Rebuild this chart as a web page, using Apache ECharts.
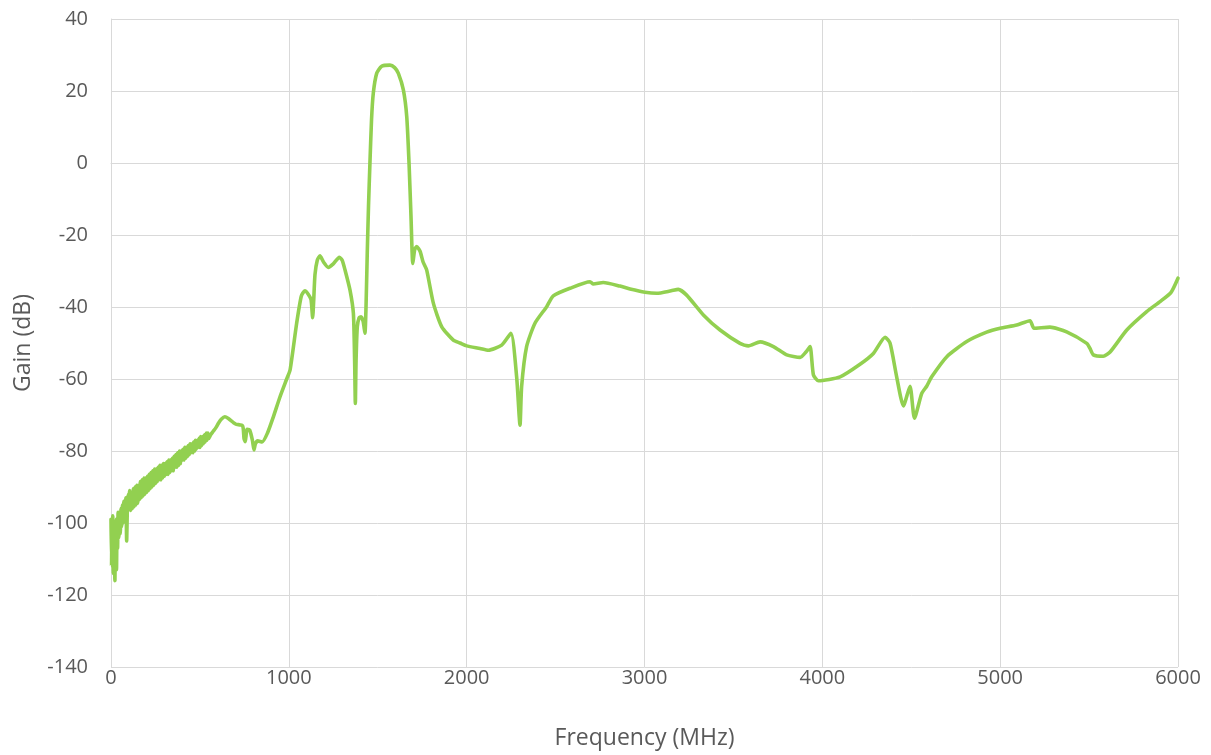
<!DOCTYPE html>
<html>
<head>
<meta charset="utf-8">
<script src="https://cdn.jsdelivr.net/npm/echarts@6/dist/echarts.min.js"></script>
<style>
html,body{margin:0;padding:0;background:#fff;}
#chart{width:1211px;height:755px;}
</style>
</head>
<body>
<div id="chart"></div>
<script>
// Noisy low-frequency segment
var freqLow = [0,3,5,8,10,13,16,19,22,25,28,31,34,37,40,44,48,52,56,60,64,68,72,76,80,84,88,92,96,
  100,105,110,115,120,125,130,135,140,145,150,155,160,165,170,175,180,185,190,195,200,205,210,215,220,225,
  230,235,240,245,250,255,260,265,270,275,280,285,290,295,300,305,310,315,320,325,330,335,340,345,350,355,
  360,365,370,375,380,385,390,395,400,405,410,415,420,425,430,435,440,445,450,455,460,465,470,475,480,485,
  490,495,500,505,510,515,520,525,530,535,540,545,550,560,575,590,605,620,640];
var gainLow = [-99,-112,-100,-110,-98,-114,-101,-108,-116,-103,-99,-113,-100,-107,-97,-104,-99,-103,-96,-101,-95,-100,-94,-98,-96,-93,-105,-96,-92,
  -95.5,-91,-96.5,-91.5,-96,-90.5,-95.5,-90,-95,-89.5,-94.5,-89.5,-93.5,-88.5,-93,-88,-92.5,-87.5,-92,-87.5,-91.5,-87,-91,-86.5,-90.5,-86,
  -90,-85.5,-89.5,-85,-89,-85,-88.5,-84.5,-88,-84,-88,-84,-87.5,-83.5,-87,-83.5,-86.5,-83,-86.5,-82.5,-86,-82.5,-85.5,-82,-85.5,-81.5,
  -84.5,-81,-84.5,-80.5,-84,-80,-83.5,-80,-82.5,-79.5,-82.5,-79,-82,-79,-81.5,-78.5,-81,-78,-80.5,-78,-80.5,-77.5,-80,-77,-79.5,-77,
  -79,-76.5,-79,-76,-78.5,-76,-78,-75.5,-77.5,-75,-77,-75,-76.5,-75.5,-74.5,-73.5,-72.2,-71.2,-70.5];

// Remaining sweep
var freqMain = [660,700,740,748,755,765,780,795,804,812,825,850,880,913,950,988,1007,1044,1070,1090,1110,1125,1134,1140,1147,1160,1175,1195,1222,1250,1284,1300,1316,1344,1363,1370,1374,1378,1385,1395,1406,1418,1428,1434,1441,1448,1456,1465,1475,1494,1522,1569,1595,1616,1644,1663,1676,1687,1697,1708,1719,1738,1755,1775,1813,1860,1925,1963,2000,2075,2122,2197,2249,2281,2300,2309,2337,2384,2450,2487,2581,2694,2712,2768,2862,2919,3003,3068,3150,3190,3237,3331,3425,3537,3584,3650,3725,3800,3875,3908,3931,3950,3978,4100,4212,4287,4353,4381,4418,4456,4493,4518,4559,4587,4615,4700,4812,4924,5000,5093,5168,5190,5280,5374,5487,5505,5524,5580,5618,5712,5824,5899,5960,6000];
var gainMain = [-71,-72.5,-73,-76.5,-77.4,-74,-74.2,-77,-79.7,-78,-77.2,-77.5,-75,-70.5,-65,-60,-57.5,-44.5,-37,-35.5,-36.5,-38,-43,-38,-31,-27,-25.8,-27.5,-29,-28,-26.2,-27,-29.7,-35.3,-41.8,-55,-66.8,-55,-45.5,-43,-42.7,-44,-47.3,-40,-25,-12,-0.1,12,19.4,24.9,26.9,27.2,26.5,24.9,20.3,12.9,-0.1,-14.9,-27.9,-24,-23.2,-24.5,-27.5,-29.7,-39,-45.5,-49.2,-50,-50.8,-51.5,-52,-50.6,-47.3,-59.4,-72.8,-62.1,-51,-44.5,-39.9,-36.9,-34.8,-33,-33.6,-33.2,-34.2,-35,-35.9,-36.2,-35.5,-35.1,-36.7,-42.2,-46.4,-50.1,-50.8,-49.7,-51,-53.3,-54,-52.5,-51,-58.9,-60.5,-59.4,-55.9,-52.9,-48.4,-50.1,-59.4,-67.5,-62,-70.9,-64,-62,-59.4,-53.8,-49.6,-47,-45.9,-45,-43.8,-45.9,-45.6,-46.9,-50.1,-51.5,-53.3,-53.7,-52.5,-46.4,-41.3,-38.5,-36,-32];

var xTicks = [0,1000,2000,3000,4000,5000,6000];
var yTicks = [-140,-120,-100,-80,-60,-40,-20,0,20,40];

var data = [];
freqLow.forEach(function(f,i){ data.push([f, gainLow[i]]); });
freqMain.forEach(function(f,i){ data.push([f, gainMain[i]]); });

var chart = echarts.init(document.getElementById('chart'), null, {renderer:'canvas'});
var font = 'Open Sans';
chart.setOption({
  animation:false,
  backgroundColor:'#fff',
  grid:{left:111, right:33, top:19, bottom:88, containLabel:false},
  xAxis:{
    type:'value', min:xTicks[0], max:xTicks[xTicks.length-1], interval:1000,
    name:'Frequency (MHz)', nameLocation:'middle', nameGap:60,
    nameTextStyle:{color:'#595959', fontSize:23, fontFamily:font},
    axisLine:{show:true, lineStyle:{color:'#d9d9d9', width:1}},
    axisTick:{show:false},
    axisLabel:{color:'#595959', fontSize:20, fontFamily:font, margin:1,
      formatter:function(v){ return String(v); }},
    splitLine:{show:true, lineStyle:{color:'#d9d9d9', width:1}}
  },
  yAxis:{
    type:'value', min:yTicks[0], max:yTicks[yTicks.length-1], interval:20,
    name:'Gain (dB)', nameLocation:'middle', nameGap:76, nameRotate:90,
    nameTextStyle:{color:'#595959', fontSize:23, fontFamily:font},
    axisLine:{show:true, lineStyle:{color:'#d9d9d9', width:1}},
    axisTick:{show:false},
    axisLabel:{color:'#595959', fontSize:20, fontFamily:font, margin:23},
    splitLine:{show:true, lineStyle:{color:'#d9d9d9', width:1}}
  },
  series:[{
    type:'line', data:data, showSymbol:false, symbol:'none',
    smooth:0.2,
    lineStyle:{color:'#92D050', width:3.6, join:'round', cap:'round'},
    itemStyle:{color:'#92D050'}
  }]
});
</script>
</body>
</html>
